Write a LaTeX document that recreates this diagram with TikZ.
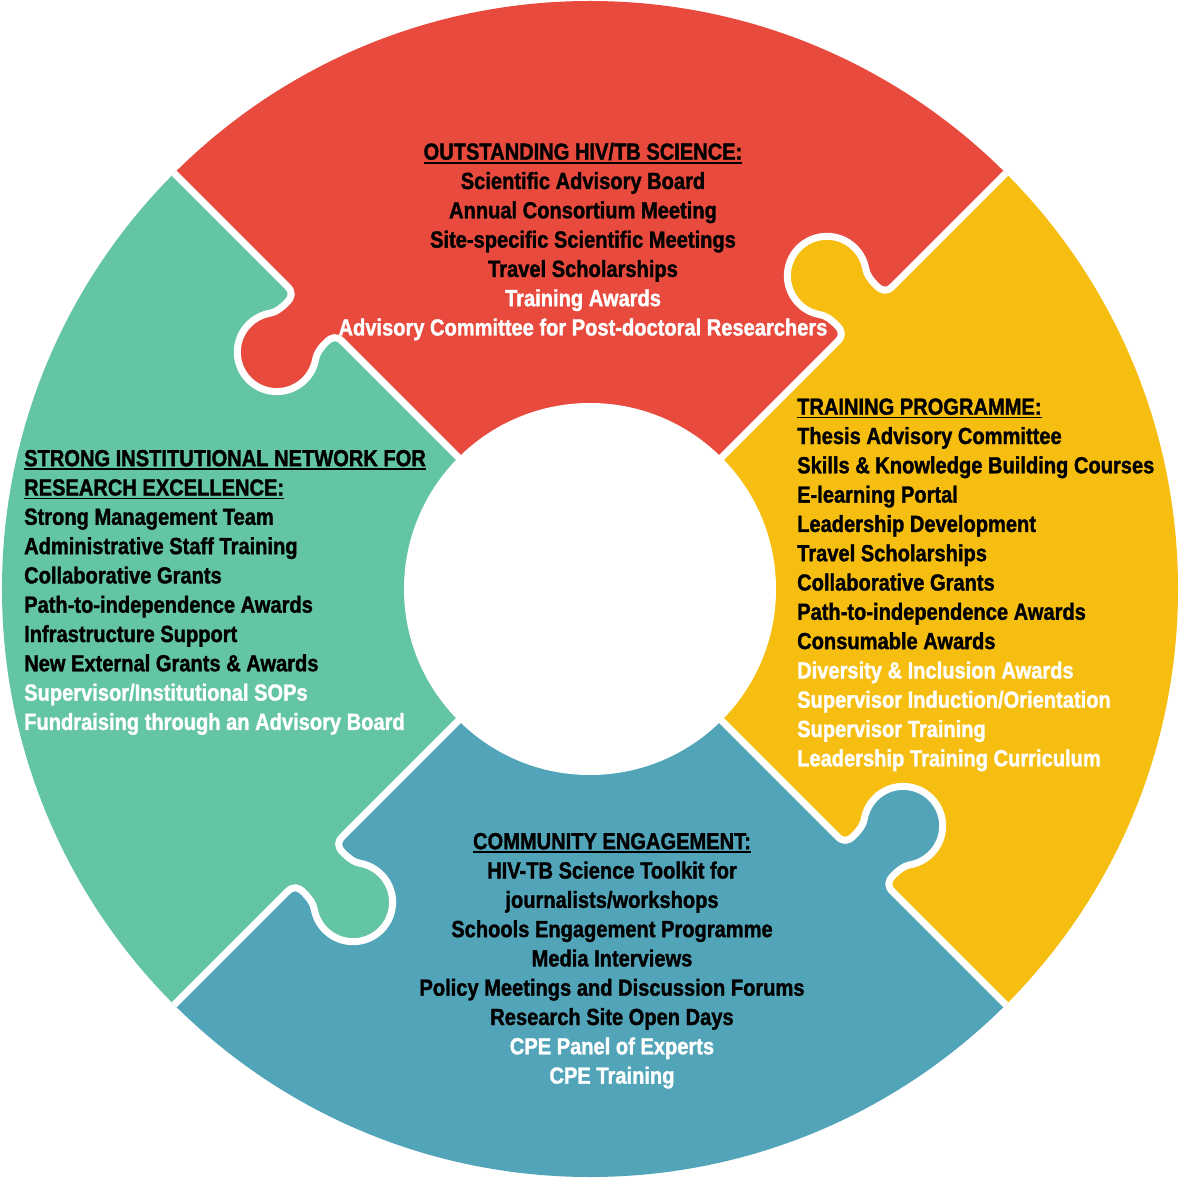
\documentclass[tikz,border=0pt]{standalone}
\usepackage{fontspec}
\setmainfont{Liberation Sans}[FakeStretch=0.862,FakeBold=1.4]
\definecolor{cred}{RGB}{232,75,62}
\definecolor{cyel}{RGB}{247,190,18}
\definecolor{cgrn}{RGB}{99,196,166}
\definecolor{cblu}{RGB}{82,164,185}
\newcommand\ulhead[1]{\vtop{\hbox{#1}\kern2pt\hrule height 1.5pt}}
\newcommand\wt[1]{\textcolor{white}{#1}}
\newcommand\fstrut{\rule{0pt}{20pt}}
\tikzset{
  knobpath/.style={insert path={
    .. controls (358,0) and (361,4) .. (361,12)
    .. controls (361,20) and (360.1,26.4) .. (356.6,31.3)
    arc[start angle=215, end angle=-35, radius=39.5]
    .. controls (417.9,26.4) and (417,20) .. (417,12)
    .. controls (417,4) and (420,0) .. (428,0)}},
  gap/.style={white, line width=7pt, line cap=round, line join=round},
  blk/.style={inner sep=0pt, font=\fontsize{23.3}{29.3}\selectfont\bfseries, text=black}
}
\begin{document}
\begin{tikzpicture}[x=1pt,y=1pt]
\fill[white] (-590,-589) rectangle (591,589);
\useasboundingbox (-590,-589) rectangle (591,589);
\begin{scope}
  \clip (0,0) circle (588);
  \fill[cred] (0,0) -- (45:640) arc[start angle=45, end angle=135, radius=640] -- cycle;
  \fill[cgrn] (0,0) -- (135:640) arc[start angle=135, end angle=225, radius=640] -- cycle;
  \fill[cblu] (0,0) -- (225:640) arc[start angle=225, end angle=315, radius=640] -- cycle;
  \fill[cyel] (0,0) -- (-45:640) arc[start angle=-45, end angle=45, radius=640] -- cycle;
  \begin{scope}[rotate=135] \fill[cred] (350,0) [knobpath] -- (428,-4) -- (350,-4) -- cycle; \end{scope}
  \begin{scope}[rotate=45] \fill[cyel] (350,0) [knobpath] -- (428,-4) -- (350,-4) -- cycle; \end{scope}
  \begin{scope}[rotate=-45] \fill[cblu] (350,0) [knobpath] -- (428,-4) -- (350,-4) -- cycle; \end{scope}
  \begin{scope}[rotate=225] \fill[cgrn] (350,0) [knobpath] -- (428,-4) -- (350,-4) -- cycle; \end{scope}
  \begin{scope}[rotate=135] \draw[gap] (150,0) -- (350,0) [knobpath] -- (640,0); \end{scope}
  \begin{scope}[rotate=45] \draw[gap] (150,0) -- (350,0) [knobpath] -- (640,0); \end{scope}
  \begin{scope}[rotate=-45] \draw[gap] (150,0) -- (350,0) [knobpath] -- (640,0); \end{scope}
  \begin{scope}[rotate=225] \draw[gap] (150,0) -- (350,0) [knobpath] -- (640,0); \end{scope}
\end{scope}
\fill[white] (0,0) circle (186);

\node[blk, anchor=north, align=center] (science) at (-7,449.5) {\fstrut\ulhead{OUTSTANDING HIV/TB SCIENCE:}\\
Scientific Advisory Board\\
Annual Consortium Meeting\\
Site-specific Scientific Meetings\\
Travel Scholarships\\
\wt{Training Awards}\\
\wt{Advisory Committee for Post-doctoral Researchers}};

\node[blk, anchor=north west, align=left] (training) at (207,194.5) {\fstrut\ulhead{TRAINING PROGRAMME:}\\
Thesis Advisory Committee\\
Skills \& Knowledge Building Courses\\
E-learning Portal\\
Leadership Development\\
Travel Scholarships\\
Collaborative Grants\\
Path-to-independence Awards\\
Consumable Awards\\
\wt{Diversity \& Inclusion Awards}\\
\wt{Supervisor Induction/Orientation}\\
\wt{Supervisor Training}\\
\wt{Leadership Training Curriculum}};

\node[blk, anchor=north west, align=left] (network) at (-566,143) {\fstrut\ulhead{STRONG INSTITUTIONAL NETWORK FOR}\\
\ulhead{RESEARCH EXCELLENCE:}\\
Strong Management Team\\
Administrative Staff Training\\
Collaborative Grants\\
Path-to-independence Awards\\
Infrastructure Support\\
New External Grants \& Awards\\
\wt{Supervisor/Institutional SOPs}\\
\wt{Fundraising through an Advisory Board}};

\node[blk, anchor=north, align=center] (community) at (22,-240) {\fstrut\ulhead{COMMUNITY ENGAGEMENT:}\\
HIV-TB Science Toolkit for\\
journalists/workshops\\
Schools Engagement Programme\\
Media Interviews\\
Policy Meetings and Discussion Forums\\
Research Site Open Days\\
\wt{CPE Panel of Experts}\\
\wt{CPE Training}};
\end{tikzpicture}
\end{document}
